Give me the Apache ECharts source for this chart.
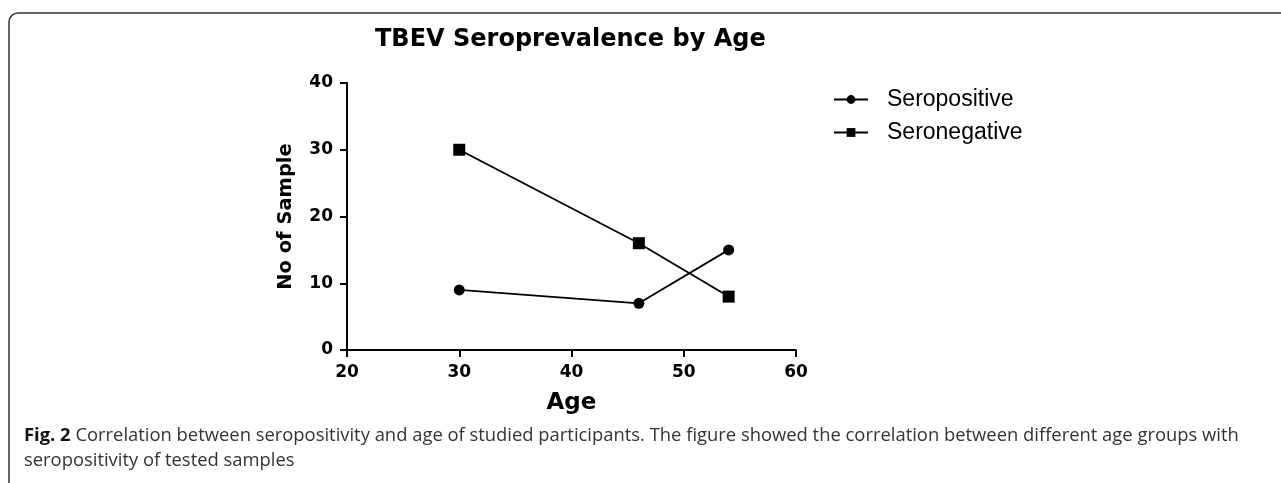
<!DOCTYPE html>
<html>
<head>
<meta charset="utf-8">
<script src="https://cdn.jsdelivr.net/npm/echarts@6/dist/echarts.min.js"></script>
<style>
  html, body { margin: 0; padding: 0; background: #fff; }
  #chart { width: 1281px; height: 483px; }
</style>
</head>
<body>
<div id="chart"></div>
<script>
// data
const ages = [30, 46, 54];
const seropositive = [9, 7, 15];
const seronegative = [30, 16, 8];
const seriesNames = ['Seropositive', 'Seronegative'];

const chart = echarts.init(document.getElementById('chart'));

const toPoints = (vals) => ages.map((a, i) => [a, vals[i]]);

const tickFont = { fontFamily: 'DejaVu Sans', fontWeight: 'bold', fontSize: 17, color: '#000' };

const option = {
  animation: false,
  backgroundColor: '#fff',
  title: [
    {
      text: 'TBEV Seroprevalence by Age',
      left: 370,
      top: 23,
      textStyle: { fontFamily: 'DejaVu Sans', fontWeight: 'bold', fontSize: 24, color: '#000' }
    },
    {
      text: '{b|Fig. 2} Correlation between seropositivity and age of studied participants. The figure showed the correlation between different age groups with\nseropositivity of tested samples',
      left: 19,
      top: 418,
      textStyle: {
        fontFamily: 'Open Sans',
        fontSize: 18.4,
        fontWeight: 'normal',
        color: '#333',
        lineHeight: 25,
        rich: {
          b: { fontFamily: 'Open Sans', fontSize: 18.4, fontWeight: 'bold', color: '#111', lineHeight: 25 }
        }
      }
    }
  ],
  legend: {
    data: seriesNames,
    left: 828,
    top: 83,
    orient: 'vertical',
    itemWidth: 34,
    itemHeight: 11,
    itemGap: 10,
    textStyle: { fontFamily: 'Liberation Sans', fontSize: 23, color: '#000', padding: [0, 0, 0, 14] }
  },
  grid: { left: 347, right: 485, top: 83, bottom: 133 },
  xAxis: {
    type: 'value',
    min: 20,
    max: 60,
    interval: 10,
    name: 'Age',
    nameLocation: 'middle',
    nameGap: 42,
    nameTextStyle: { fontFamily: 'DejaVu Sans', fontWeight: 'bold', fontSize: 23, color: '#000' },
    axisLine: { onZero: false, lineStyle: { color: '#000', width: 2 } },
    axisTick: { length: 7, lineStyle: { color: '#000', width: 2 } },
    axisLabel: Object.assign({ margin: 14 }, tickFont),
    splitLine: { show: false }
  },
  yAxis: {
    type: 'value',
    min: 0,
    max: 40,
    interval: 10,
    name: 'No of Sample',
    nameLocation: 'middle',
    nameGap: 51,
    nameRotate: 90,
    nameTextStyle: { fontFamily: 'DejaVu Sans', fontWeight: 'bold', fontSize: 19.5, color: '#000' },
    axisLine: { show: true, onZero: false, lineStyle: { color: '#000', width: 2 } },
    axisTick: { show: true, length: 7, lineStyle: { color: '#000', width: 2 } },
    axisLabel: Object.assign({ margin: 14 }, tickFont),
    splitLine: { show: false }
  },
  series: [
    {
      name: seriesNames[0],
      type: 'line',
      data: toPoints(seropositive),
      symbol: 'circle',
      symbolSize: 11,
      itemStyle: { color: '#000' },
      lineStyle: { color: '#000', width: 1.8 }
    },
    {
      name: seriesNames[1],
      type: 'line',
      data: toPoints(seronegative),
      symbol: 'rect',
      symbolSize: 12,
      itemStyle: { color: '#000' },
      lineStyle: { color: '#000', width: 1.8 }
    }
  ],
  graphic: [
    {
      type: 'rect',
      shape: { x: 9, y: 13, width: 1300, height: 500, r: 9 },
      style: { fill: 'none', stroke: '#333', lineWidth: 1.5 },
      silent: true
    }
  ]
};

chart.setOption(option);
</script>
</body>
</html>
